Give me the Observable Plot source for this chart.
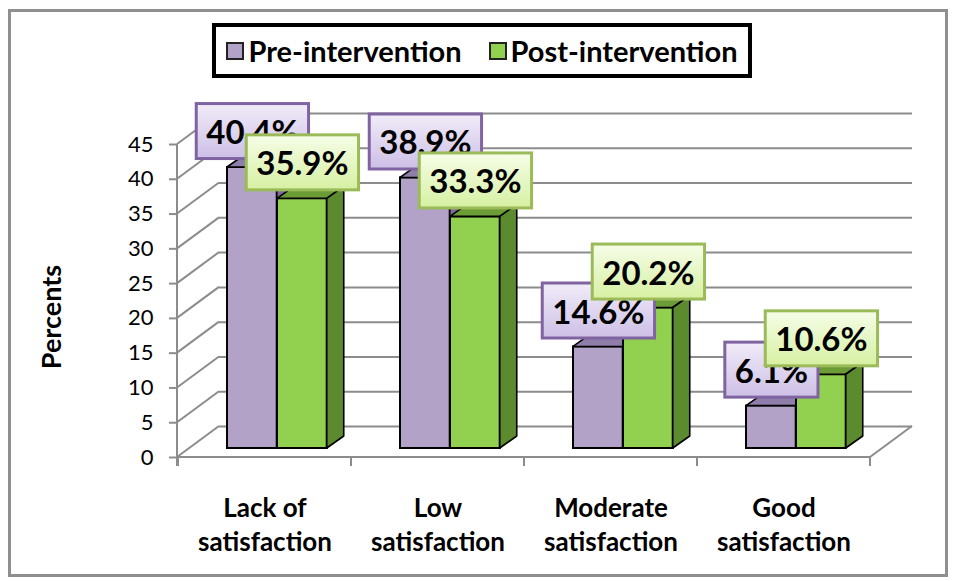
<!DOCTYPE html>
<html>
<head>
<meta charset="utf-8">
<script src="https://cdn.jsdelivr.net/npm/d3@7"></script>
<script src="https://cdn.jsdelivr.net/npm/@observablehq/plot@0.6"></script>
<style>
  html, body { margin: 0; padding: 0; background: #fff; }
  #wrap { position: relative; width: 957px; height: 581px; overflow: hidden; font-family: Lato, "Open Sans", sans-serif; }
  #frame { position: absolute; left: 8px; top: 9px; width: 934px; height: 562px; border: 3px solid #8f8f8f; }
  #chart { position: absolute; left: 0; top: 0; }
  #legend { position: absolute; left: 212px; top: 23px; width: 540px; height: 55px; box-sizing: border-box;
            border: 4px solid #000; background: #fff; display: flex; align-items: center; justify-content: center;
            gap: 27px; font-weight: bold; font-size: 29px; color: #000; }
  #legend .item { display: flex; align-items: center; }
  #legend .sw { display: inline-block; width: 14px; height: 14px; border: 2px solid #222; margin-right: 4px; }
  #chart g[aria-label="y-axis tick"] { stroke: #8c8c8c; stroke-width: 2; }
  #chart g[aria-label="y-axis"] .tick line { stroke: #8c8c8c; stroke-width: 2; }
</style>
</head>
<body>
<div id="wrap">
  <div id="frame"></div>
  <div id="chart"></div>
  <div id="legend"></div>
</div>
<script>
// ---- data ----
const categories = ["Lack of\nsatisfaction", "Low\nsatisfaction", "Moderate\nsatisfaction", "Good\nsatisfaction"];
const seriesNames = ["Pre-intervention", "Post-intervention"];
const preValues = [40.4, 38.9, 14.6, 6.1];
const postValues = [35.9, 33.3, 20.2, 10.6];
const yTicks = [0, 5, 10, 15, 20, 25, 30, 35, 40, 45];
const axisTitle = "Percents";

// ---- styles ----
const colors = {
  pre:  { front: "#b3a2c7", top: "#8f7daa", side: "#7d6a98", boxTop: "#f1ecf8", boxBottom: "#cdbfe6", boxStroke: "#8064a2" },
  post: { front: "#92d050", top: "#6b9c36", side: "#5b8a2f", boxTop: "#f6fde8", boxBottom: "#d6f0a2", boxStroke: "#9bbb59" }
};
const gridColor = "#8c8c8c";

const preRows = categories.map((c, i) => ({category: c, series: seriesNames[0], value: preValues[i]}));
const postRows = categories.map((c, i) => ({category: c, series: seriesNames[1], value: postValues[i]}));

// legend
const legend = document.getElementById("legend");
seriesNames.forEach((s, i) => {
  const it = document.createElement("span");
  it.className = "item";
  const sw = document.createElement("span");
  sw.className = "sw";
  sw.style.background = i === 0 ? colors.pre.front : colors.post.front;
  it.appendChild(sw);
  it.appendChild(document.createTextNode(s));
  legend.appendChild(it);
});

const fmt = d => d.value.toFixed(1) + "%";

const chart = Plot.plot({
  width: 957,
  height: 581,
  marginLeft: 177,
  marginRight: 87,
  marginTop: 144,
  marginBottom: 124,
  style: {background: "transparent", fontFamily: "Lato, sans-serif", fontSize: "22px", color: "#000", overflow: "visible"},
  x: {domain: categories, padding: 0, axis: null},
  y: {domain: [0, 45], ticks: yTicks, tickSize: 8, tickPadding: 16, label: null},
  marks: [
    Plot.ruleY(yTicks, {y: d => d, dx: 42, dy: -31, stroke: gridColor, strokeWidth: 2}),
    Plot.barY(preRows, {x: "category", y: "value", insetLeft: 36.5, insetRight: 86.75, dx: 12.5, dy: -9,
      fill: colors.pre.front, stroke: "#000", strokeWidth: 2, className: "bar-pre"}),
    Plot.barY(postRows, {x: "category", y: "value", insetLeft: 86.5, insetRight: 36.75, dx: 12.5, dy: -9,
      fill: colors.post.front, stroke: "#000", strokeWidth: 2, className: "bar-post"}),
    Plot.text(preRows, {x: "category", y: "value", text: fmt, dx: -12.6, dy: -43,
      fontSize: 33, fontWeight: "bold", fill: "#000", className: "lab-pre"}),
    Plot.text(postRows, {x: "category", y: "value", text: fmt, dx: 37.4, dy: -43,
      fontSize: 33, fontWeight: "bold", fill: "#000", className: "lab-post"}),
    Plot.text(categories, {x: d => d, frameAnchor: "bottom", lineAnchor: "top", dy: 35,
      fontSize: 26, fontWeight: "bold", lineHeight: 1.31, fill: "#000"}),
    Plot.text([axisTitle], {frameAnchor: "left", textAnchor: "middle", rotate: -90, dx: -125, dy: 16,
      fontSize: 27, fontWeight: "bold", fill: "#000"})
  ]
});
document.getElementById("chart").appendChild(chart);

// ---- 3-D decoration derived from Plot's scales ----
const svg = d3.select(chart);
const xs = chart.scale("x"), ys = chart.scale("y");
const X0 = xs.range[0], X1 = xs.range[1];
const Y0 = ys.apply(0);
const WALL = {dx: 42, dy: -31};
const BAR = {dx: 17, dy: -12};

const defs = svg.append("defs");
[["gPre", colors.pre], ["gPost", colors.post]].forEach(([id, c]) => {
  const g = defs.append("linearGradient").attr("id", id).attr("x1", 0).attr("y1", 0).attr("x2", 0).attr("y2", 1);
  g.append("stop").attr("offset", "0%").attr("stop-color", c.boxTop);
  g.append("stop").attr("offset", "100%").attr("stop-color", c.boxBottom);
});

const back = svg.insert("g", "g").attr("stroke", gridColor).attr("stroke-width", 2).attr("fill", "none");
const seg = (a, b, c, d) => back.append("line").attr("x1", a).attr("y1", b).attr("x2", c).attr("y2", d);
yTicks.forEach(v => seg(X0, ys.apply(v), X0 + WALL.dx, ys.apply(v) + WALL.dy));
seg(X0, Y0, X1, Y0);
seg(X1, Y0, X1 + WALL.dx, Y0 + WALL.dy);
seg(X0, ys.apply(d3.max(yTicks)), X0, Y0 + 9);
categories.forEach(c => { const x = xs.apply(c); seg(x, Y0, x, Y0 + 9); });
seg(X1, Y0, X1, Y0 + 9);

// bar top and side faces
[["bar-pre", colors.pre], ["bar-post", colors.post]].forEach(([cls, c]) => {
  svg.selectAll("g." + cls + " rect").each(function() {
    const x = +this.getAttribute("x"), y = +this.getAttribute("y");
    const w = +this.getAttribute("width"), h = +this.getAttribute("height");
    const g = d3.select(this.parentNode);
    g.append("polygon")
      .attr("points", [[x, y], [x + BAR.dx, y + BAR.dy], [x + w + BAR.dx, y + BAR.dy], [x + w, y]].join(" "))
      .attr("fill", c.top).attr("stroke", "#000").attr("stroke-width", 1.6).attr("stroke-linejoin", "round");
    g.append("polygon")
      .attr("points", [[x + w, y], [x + w + BAR.dx, y + BAR.dy], [x + w + BAR.dx, y + h + BAR.dy], [x + w, y + h]].join(" "))
      .attr("fill", c.side).attr("stroke", "#000").attr("stroke-width", 1.6).attr("stroke-linejoin", "round");
  });
});

// label boxes
[["lab-pre", "gPre", colors.pre], ["lab-post", "gPost", colors.post]].forEach(([cls, grad, c]) => {
  svg.selectAll("g." + cls + " text").each(function() {
    const b = this.getBBox();
    const r = document.createElementNS("http://www.w3.org/2000/svg", "rect");
    const cy = b.y + b.height / 2;
    r.setAttribute("x", b.x - 10);
    r.setAttribute("y", cy - 27.5);
    r.setAttribute("width", b.width + 20);
    r.setAttribute("height", 55);
    r.setAttribute("fill", "url(#" + grad + ")");
    r.setAttribute("stroke", c.boxStroke);
    r.setAttribute("stroke-width", 3);
    const t = this.getAttribute("transform");
    if (t) r.setAttribute("transform", t);
    this.parentNode.insertBefore(r, this);
  });
});
</script>
</body>
</html>
